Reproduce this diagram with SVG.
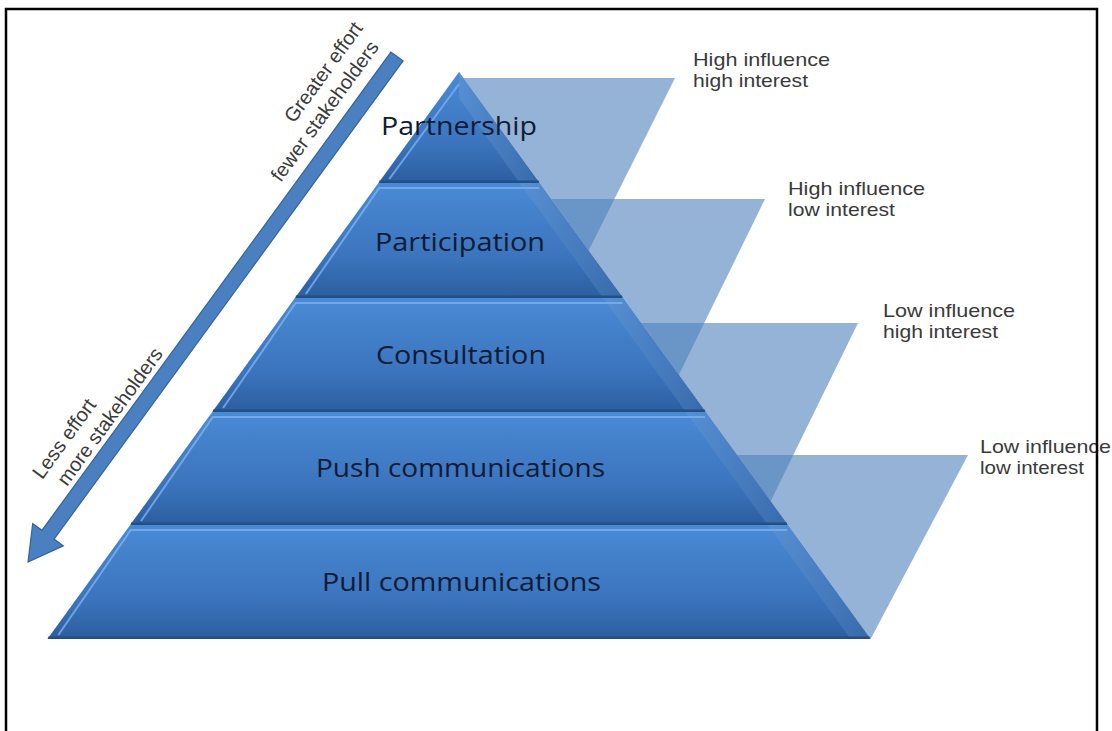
<svg xmlns="http://www.w3.org/2000/svg" width="1112" height="731" viewBox="0 0 1112 731">
  <defs>
    <linearGradient id="tierGrad" x1="0" y1="0" x2="0" y2="1">
      <stop offset="0" stop-color="#4a8ad5"/>
      <stop offset="0.65" stop-color="#3b74bd"/>
      <stop offset="1" stop-color="#2c5e9f"/>
    </linearGradient>
    <linearGradient id="bevelGrad" x1="0" y1="0" x2="1" y2="0">
      <stop offset="0" stop-color="#5b92d2"/>
      <stop offset="1" stop-color="#3c6eae"/>
    </linearGradient>
  </defs>
  <style>
    .band { fill: #4f81bd; fill-opacity: 0.6; }
    .tier { fill: url(#tierGrad); }
    .bevel { fill: url(#bevelGrad); fill-opacity: 0.75; }
    .hl { fill: none; stroke: #7db2ee; stroke-width: 2; stroke-opacity: 0.8; }
    .shadow { stroke: #234f87; stroke-width: 2.5; }
    .tierText { font-family: "Open Sans", "Noto Sans", sans-serif; font-size: 25px; fill: #101c36; text-anchor: middle; }
    .side { font-family: "Liberation Sans", Arial, sans-serif; font-size: 19px; fill: #3a3a3a; }
    .arrowText { font-family: "Liberation Sans", Arial, sans-serif; font-size: 20px; fill: #3a3a3a; }
  </style>
  <rect x="0" y="0" width="1112" height="731" fill="#ffffff"/>

  <!-- translucent stakeholder bands (behind pyramid) -->
  <g id="bands">
    <polygon id="band1" class="band" points="463.4,78 675,78 588.7,250.6"/>
    <polygon id="band2" class="band" points="551.2,199 765,199 678.9,374.8"/>
    <polygon id="band3" class="band" points="641.2,323 858,323 770.6,501.3"/>
    <polygon id="band4" class="band" points="737.1,455 968,455 870.6,639"/>
  </g>

  <!-- pyramid tiers -->
  <g id="tier-partnership">
    <polygon class="tier" points="459,72 539.6,183 378.4,183"/>
    <polygon class="bevel" points="459,72 539.6,183 519.6,183 459,98"/>
    <polyline class="hl" points="389.3,179 459,84"/>
    <line class="shadow" x1="379.3" y1="181.8" x2="538.7" y2="181.8"/>
    <text class="tierText" x="459" y="135" textLength="156" lengthAdjust="spacingAndGlyphs">Partnership</text>
  </g>
  <g id="tier-participation">
    <polygon class="tier" points="378.4,183 539.6,183 623.1,298 294.9,298"/>
    <polygon class="bevel" points="539.6,183 623.1,298 603.1,298 519.6,183"/>
    <polyline class="hl" points="305.8,294 379.1,188 538.9,188"/>
    <line class="shadow" x1="295.8" y1="296.8" x2="622.2" y2="296.8"/>
    <text class="tierText" x="460" y="251" textLength="170" lengthAdjust="spacingAndGlyphs">Participation</text>
  </g>
  <g id="tier-consultation">
    <polygon class="tier" points="294.9,298 623.1,298 705.8,412 212.2,412"/>
    <polygon class="bevel" points="623.1,298 705.8,412 685.8,412 603.1,298"/>
    <polyline class="hl" points="223.1,408 295.5,303 622.5,303"/>
    <line class="shadow" x1="213.1" y1="410.8" x2="704.9" y2="410.8"/>
    <text class="tierText" x="461" y="364" textLength="170" lengthAdjust="spacingAndGlyphs">Consultation</text>
  </g>
  <g id="tier-push">
    <polygon class="tier" points="212.2,412 705.8,412 787.9,525 130.1,525"/>
    <polygon class="bevel" points="705.8,412 787.9,525 767.9,525 685.8,412"/>
    <polyline class="hl" points="141,521 212.9,417 705.1,417"/>
    <line class="shadow" x1="131" y1="523.8" x2="787" y2="523.8"/>
    <text class="tierText" x="460.5" y="477" textLength="289" lengthAdjust="spacingAndGlyphs">Push communications</text>
  </g>
  <g id="tier-pull">
    <polygon class="tier" points="130.1,525 787.9,525 870.6,639 47.4,639"/>
    <polygon class="bevel" points="787.9,525 870.6,639 850.6,639 767.9,525"/>
    <polyline class="hl" points="58.3,635 130.8,530 787.2,530"/>
    <line class="shadow" x1="48.3" y1="637.8" x2="869.7" y2="637.8"/>
    <text class="tierText" x="461.5" y="591" textLength="279" lengthAdjust="spacingAndGlyphs">Pull communications</text>
  </g>

  <!-- side labels -->
  <g id="label-hh">
    <text class="side" x="693" y="66" textLength="137" lengthAdjust="spacingAndGlyphs">High influence</text>
    <text class="side" x="693" y="87" textLength="115" lengthAdjust="spacingAndGlyphs">high interest</text>
  </g>
  <g id="label-hl">
    <text class="side" x="788" y="195" textLength="137" lengthAdjust="spacingAndGlyphs">High influence</text>
    <text class="side" x="788" y="216" textLength="107" lengthAdjust="spacingAndGlyphs">low interest</text>
  </g>
  <g id="label-lh">
    <text class="side" x="883" y="317" textLength="132" lengthAdjust="spacingAndGlyphs">Low influence</text>
    <text class="side" x="883" y="338" textLength="115" lengthAdjust="spacingAndGlyphs">high interest</text>
  </g>
  <g id="label-ll">
    <text class="side" x="980" y="453" textLength="131" lengthAdjust="spacingAndGlyphs">Low influence</text>
    <text class="side" x="980" y="474" textLength="104" lengthAdjust="spacingAndGlyphs">low interest</text>
  </g>

  <!-- effort arrow -->
  <g id="connectors">
    <polygon id="effort-arrow" points="390.9,52.1 41.9,530.3 32.7,523.5 28,562 63.3,545.9 54.1,539.1 403.1,60.9" fill="#4a7fc0" stroke="#36639e" stroke-width="1.2" stroke-linejoin="miter"/>
  </g>
  <g id="arrow-label-top" transform="translate(376,52) rotate(-54)">
    <text class="arrowText" x="12" y="-24" text-anchor="end">Greater effort</text>
    <text class="arrowText" x="6" y="0" text-anchor="end">fewer stakeholders</text>
  </g>
  <g id="arrow-label-bottom" transform="translate(67,487) rotate(-54)">
    <text class="arrowText" x="-9" y="-24">Less effort</text>
    <text class="arrowText" x="0" y="0">more stakeholders</text>
  </g>

  <!-- frame -->
  <path id="frame" d="M6,740 V9 H1097 V740" fill="none" stroke="#000000" stroke-width="2.5"/>
</svg>
